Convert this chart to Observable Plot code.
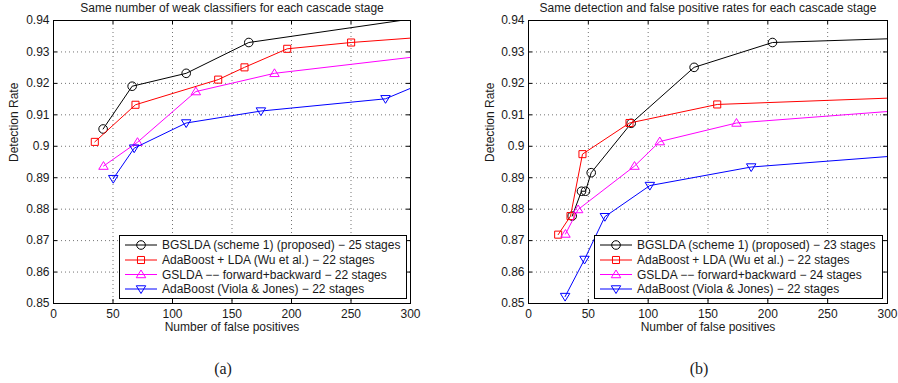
<!DOCTYPE html>
<html><head><meta charset="utf-8">
<script src="https://cdn.jsdelivr.net/npm/d3@7"></script>
<script src="https://cdn.jsdelivr.net/npm/@observablehq/plot@0.6"></script>
<style>
body{margin:0;background:#fff;}
#wrap{position:relative;width:898px;height:383px;display:flex;font-family:"Liberation Sans",Arial,sans-serif;}
#wrap > div.p{width:449px;height:383px;}
</style></head><body><div id="wrap"><div class="p" id="pa"></div><div class="p" id="pb"></div></div>
<script>
// ---- shared axis data ----
const xTicks = [0, 50, 100, 150, 200, 250, 300];
const xTickLabels = ["0", "50", "100", "150", "200", "250", "300"];
const yTicks = [0.85, 0.86, 0.87, 0.88, 0.89, 0.90, 0.91, 0.92, 0.93, 0.94];
const yTickLabels = ["0.85", "0.86", "0.87", "0.88", "0.89", "0.9", "0.91", "0.92", "0.93", "0.94"];
const seriesColors = ["#000000", "#ff0000", "#ff00ff", "#0000ff"];
const seriesSymbols = ["circle", "square", "up", "down"];

// ---- panel (a) ----
const aTitle = "Same number of weak classifiers for each cascade stage";
const aLegend = ["BGSLDA (scheme 1) (proposed) − 25 stages", "AdaBoost + LDA (Wu et al.) − 22 stages", "GSLDA −− forward+backward − 22 stages", "AdaBoost (Viola & Jones) − 22 stages"];
const aBgsldaX = [41.7, 66.1, 111.5, 164.1, 330];
const aBgsldaY = [0.9055, 0.9191, 0.9232, 0.9330, 0.9421];
const aAdaLdaX = [34.7, 68.9, 138.4, 160.5, 196.4, 250.1, 400];
const aAdaLdaY = [0.9014, 0.9132, 0.9212, 0.9251, 0.9310, 0.9330, 0.9372];
const aGsldaX = [42.0, 70.6, 119.6, 185.7, 400];
const aGsldaY = [0.8937, 0.9013, 0.9174, 0.9232, 0.9327];
const aViolaX = [50.2, 67.8, 111.5, 174.3, 279.0, 320];
const aViolaY = [0.8897, 0.8994, 0.9074, 0.9112, 0.9151, 0.9216];

// ---- panel (b) ----
const bTitle = "Same detection and false positive rates for each cascade stage";
const bLegend = ["BGSLDA (scheme 1) (proposed) − 23 stages", "AdaBoost + LDA (Wu et al.) − 22 stages", "GSLDA −− forward+backward − 24 stages", "AdaBoost (Viola & Jones) − 22 stages"];
const bBgsldaX = [36.5, 44.3, 47.6, 52.4, 85.8, 138.4, 203.9, 400];
const bBgsldaY = [0.8778, 0.8857, 0.8857, 0.8916, 0.9073, 0.9251, 0.9330, 0.9354];
const bAdaLdaX = [24.8, 35.1, 45.1, 84.4, 157.7, 350];
const bAdaLdaY = [0.8719, 0.8778, 0.8975, 0.9074, 0.9133, 0.9160];
const bGsldaX = [30.9, 41.5, 88.6, 109.7, 173.8, 350];
const bGsldaY = [0.8721, 0.8799, 0.8937, 0.9015, 0.9074, 0.9125];
const bViolaX = [30.6, 46.8, 63.8, 101.4, 186.1, 350];
const bViolaY = [0.8522, 0.8640, 0.8776, 0.8875, 0.8934, 0.8982];

// ---- marker shapes (MATLAB-like, hollow) ----
const symbols = {
  circle: {draw(c, size) { const r = Math.sqrt(size / Math.PI); c.moveTo(r, 0); c.arc(0, 0, r, 0, 2 * Math.PI); }},
  square: {draw(c, size) { const r = Math.sqrt(size / Math.PI) * 0.82; c.moveTo(-r, -r); c.lineTo(r, -r); c.lineTo(r, r); c.lineTo(-r, r); c.closePath(); }},
  up: {draw(c, size) { const r = Math.sqrt(size / Math.PI); c.moveTo(0, -r * 1.05); c.lineTo(r * 1.1, r * 0.75); c.lineTo(-r * 1.1, r * 0.75); c.closePath(); }},
  down: {draw(c, size) { const r = Math.sqrt(size / Math.PI); c.moveTo(0, r * 1.05); c.lineTo(r * 1.1, -r * 0.75); c.lineTo(-r * 1.1, -r * 0.75); c.closePath(); }}
};

function rows(xs, ys) { return xs.map((x, i) => ({x, y: ys[i]})); }

const FONT = '"Liberation Sans", Arial, sans-serif';

function panel(el, {title, series, marginLeft, marginRight, label}) {
  const W = 449, H = 383, mt = 20, mb = 80;
  const fw = W - marginLeft - marginRight, fh = H - mt - mb;
  const marks = [
    Plot.ruleX(xTicks, {x: d => d, stroke: "#000", strokeOpacity: 0.55, strokeDasharray: "1,3"}),
    Plot.ruleY(yTicks, {y: d => d, stroke: "#000", strokeOpacity: 0.55, strokeDasharray: "1,3"}),
    // inward ticks on all four sides
    Plot.ruleX(xTicks, {x: d => d, stroke: "#000", insetTop: fh - 4}),
    Plot.ruleX(xTicks, {x: d => d, stroke: "#000", insetBottom: fh - 4}),
    Plot.ruleY(yTicks, {y: d => d, stroke: "#000", insetRight: fw - 4}),
    Plot.ruleY(yTicks, {y: d => d, stroke: "#000", insetLeft: fw - 4}),
  ];
  series.forEach((s, i) => {
    const data = rows(s[0], s[1]);
    marks.push(Plot.line(data, {x: "x", y: "y", stroke: seriesColors[i], strokeWidth: 1, clip: true}));
    marks.push(Plot.dot(data, {x: "x", y: "y", stroke: seriesColors[i], fill: "none", strokeWidth: 1, r: 4.3, symbol: symbols[seriesSymbols[i]], clip: true}));
  });
  marks.push(
    Plot.frame({stroke: "#000", strokeWidth: 1}),
    Plot.text(xTicks, {x: d => d, frameAnchor: "bottom", dy: 11, lineAnchor: "middle", text: (d, i) => xTickLabels[i], fontSize: 12, fill: "#1a1a1a"}),
    Plot.text(yTicks, {y: d => d, frameAnchor: "left", dx: -4, textAnchor: "end", lineAnchor: "middle", text: (d, i) => yTickLabels[i], fontSize: 12, fill: "#1a1a1a"}),
    Plot.text([title], {frameAnchor: "top", dy: -12, lineAnchor: "middle", text: d => d, fontSize: 12, fill: "#1a1a1a"}),
    Plot.text(["Number of false positives"], {frameAnchor: "bottom", dy: 24, lineAnchor: "middle", text: d => d, fontSize: 12, fill: "#1a1a1a"}),
    Plot.text(["Detection Rate"], {frameAnchor: "left", dx: marginLeft === 53 ? -39 : -38, rotate: -90, lineAnchor: "middle", text: d => d, fontSize: 12, fill: "#1a1a1a"}),
    Plot.text([label], {frameAnchor: "bottom", dy: 65, dx: -9, lineAnchor: "middle", text: d => d, fontSize: 16, fontFamily: '"Liberation Serif", "Times New Roman", serif', fill: "#1a1a1a"})
  );
  const chart = Plot.plot({
    width: W, height: H, marginTop: mt, marginBottom: mb, marginLeft, marginRight,
    x: {domain: [0, 300], axis: null},
    y: {domain: [0.85, 0.94], axis: null},
    style: {fontFamily: FONT, background: "white", overflow: "visible"},
    marks
  });
  el.appendChild(chart);
}

panel(document.getElementById("pa"), {title: aTitle, marginLeft: 53, marginRight: 39, label: "(a)",
  series: [[aBgsldaX, aBgsldaY], [aAdaLdaX, aAdaLdaY], [aGsldaX, aGsldaY], [aViolaX, aViolaY]]});
panel(document.getElementById("pb"), {title: bTitle, marginLeft: 79, marginRight: 11, label: "(b)",
  series: [[bBgsldaX, bBgsldaY], [bAdaLdaX, bAdaLdaY], [bGsldaX, bGsldaY], [bViolaX, bViolaY]]});

// ---- legends ----
function legend(left, top, w, h, names) {
  const svg = d3.select("#wrap").append("svg")
    .attr("width", w).attr("height", h)
    .style("position", "absolute").style("left", left + "px").style("top", top + "px")
    .style("font-family", FONT);
  svg.append("rect").attr("x", 0.5).attr("y", 0.5).attr("width", w - 1).attr("height", h - 1)
    .attr("fill", "#fff").attr("stroke", "#000").attr("stroke-width", 1);
  const rowY = [10, 25, 39.5, 54];
  names.forEach((n, i) => {
    const g = svg.append("g").attr("transform", `translate(0,${rowY[i]})`);
    g.append("line").attr("x1", 6).attr("x2", 38).attr("y1", 0).attr("y2", 0).attr("stroke", seriesColors[i]);
    const p = d3.path();
    symbols[seriesSymbols[i]].draw(p, Math.PI * 4.3 * 4.3);
    g.append("path").attr("d", p.toString()).attr("transform", "translate(22,0)")
      .attr("fill", "none").attr("stroke", seriesColors[i]);
    g.append("text").attr("x", 43).attr("y", 0).attr("dy", "0.35em").attr("font-size", 12)
      .attr("fill", "#1a1a1a").text(n);
  });
}
legend(119, 235, 288, 64, aLegend);
legend(594, 235, 289, 64, bLegend);
</script>
</body></html>
